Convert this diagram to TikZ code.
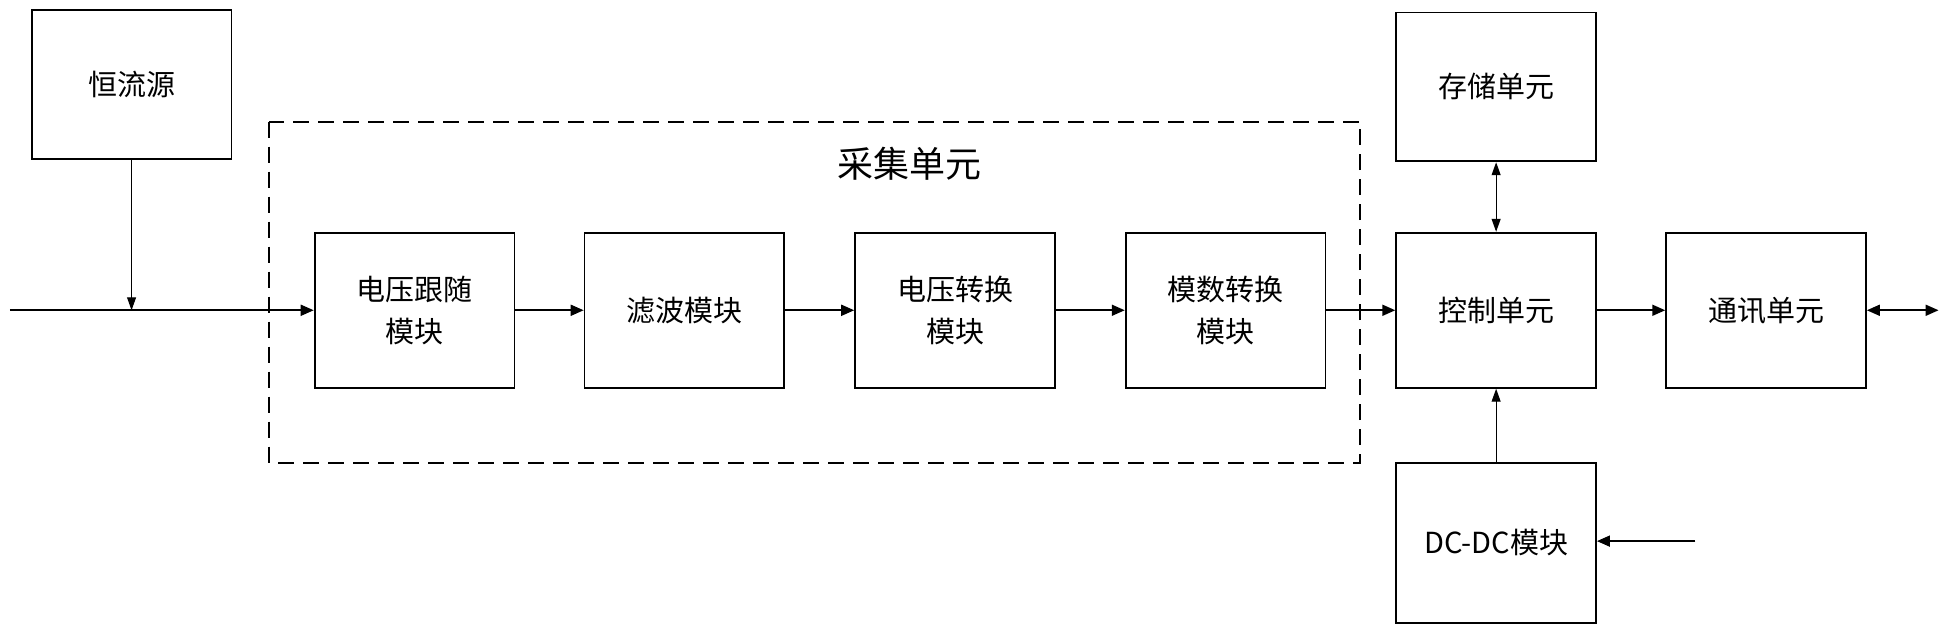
\documentclass[tikz,border=0pt]{standalone}
\usepackage{fontspec}
\newfontfamily\cjk{Noto Sans CJK SC}
\usetikzlibrary{arrows.meta}
\begin{document}
\begin{tikzpicture}[x=1.241pt,y=-1.241pt,
  box/.style={draw,line width=1.8pt,minimum width=161*1.241pt,minimum height=125*1.241pt,align=center,font=\cjk\fontsize{29}{42}\selectfont,inner sep=0pt},
  arr/.style={line width=1.8pt,-{Triangle[length=13pt,width=11pt]}},
  thin arr/.style={line width=1pt,-{Triangle[length=13pt,width=9pt]}}]
\useasboundingbox[fill=white] (0,0) rectangle (1568,505);
\draw[dashed,line width=1.8pt,dash pattern=on 16pt off 9pt] (217,98) rectangle (1096,373);
\node[font=\cjk\fontsize{36}{40}\selectfont] (acq) at (733,132) {采集单元};
\node[box,minimum height=120*1.241pt] (src) at (106,68) {恒流源};
\node[box] (b1) at (334,250) {电压跟随\\模块};
\node[box] (b2) at (551.5,250) {滤波模块};
\node[box] (b3) at (769.5,250) {电压转换\\模块};
\node[box] (b4) at (987.5,250) {模数转换\\模块};
\node[box] (ctl) at (1205.5,250) {控制单元};
\node[box,minimum height=120*1.241pt] (mem) at (1205.5,70) {存储单元};
\node[box] (com) at (1423,250) {通讯单元};
\node[box,minimum height=129*1.241pt] (dc) at (1205.5,437.5) {DC-DC模块};
\coordinate (in) at (8,250);
\coordinate (j) at (106,250);
\coordinate (dcin) at (1366,436);
\coordinate (out) at (1562,250);
\draw[line width=1.8pt] (in) -- (j);
\draw[arr] (j) -- (b1);
\draw[thin arr] (src) -- (j);
\draw[arr] (b1) -- (b2);
\draw[arr] (b2) -- (b3);
\draw[arr] (b3) -- (b4);
\draw[arr] (b4) -- (ctl);
\draw[arr] (ctl) -- (com);
\draw[line width=1pt,{Triangle[length=13pt,width=9pt]}-{Triangle[length=13pt,width=9pt]}] (mem) -- (ctl);
\draw[thin arr] (dc) -- (ctl);
\draw[arr] (dcin) -- (dc.east |- dcin);
\draw[line width=1.8pt,{Triangle[length=13pt,width=11pt]}-{Triangle[length=13pt,width=11pt]}] (com) -- (out);
\end{tikzpicture}
\end{document}
